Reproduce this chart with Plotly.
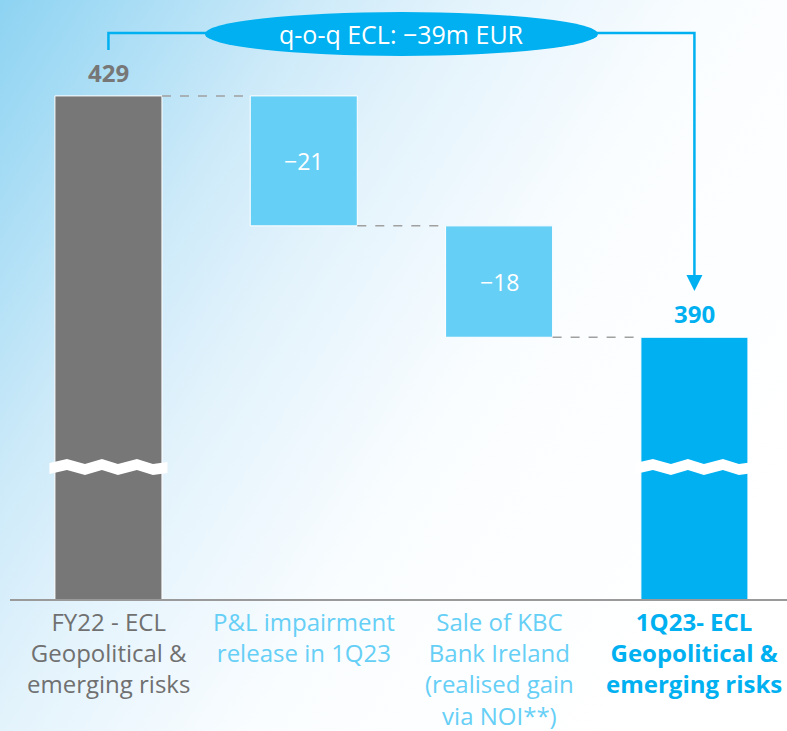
import base64
import plotly.graph_objects as go

# ECL movement FY22 -> 1Q23 (m EUR)
categories = [
    "FY22 - ECL<br>Geopolitical &<br>emerging risks",
    "P&L impairment<br>release in 1Q23",
    "Sale of KBC<br>Bank Ireland<br>(realised gain<br>via NOI**)",
    "<b>1Q23- ECL<br>Geopolitical &<br>emerging risks</b>",
]
values = [429, -21, -18, 390]
kinds = ["total", "delta", "delta", "total"]

GREY = "#777777"
LIGHT = "#66cff6"
BLUE = "#00b0f0"
bar_colors = [GREY, LIGHT, LIGHT, BLUE]
label_colors = ["#707070", LIGHT, LIGHT, BLUE]
FONT = "Open Sans"

W, H = 787, 731
M_L, M_R, M_T, M_B = 10, 0, 0, 132
PLOT_W = W - M_L - M_R
PLOT_H = H - M_T - M_B
X_RANGE = [-0.504, 3.474]
Y_RANGE = [347.7, 444.5]
BAR_W = 0.548

# waterfall geometry
bases, tops = [], []
running = 0
for v, k in zip(values, kinds):
    if k == "total":
        bases.append(0)
        running = v
    else:
        bases.append(running)
        running += v
    tops.append(bases[-1] + v)
xs = list(range(len(values)))

def px_x(dx):
    """horizontal pixel offset -> x data units"""
    return dx * (X_RANGE[1] - X_RANGE[0]) / PLOT_W

def px_y(py):
    """absolute pixel row -> y data value"""
    return Y_RANGE[1] - (py - M_T) * (Y_RANGE[1] - Y_RANGE[0]) / PLOT_H

def paper_y(py):
    return 1 - (py - M_T) / PLOT_H

def fmt(v):
    return str(v).replace("-", "\u2212")

fig = go.Figure()
fig.add_trace(go.Bar(
    x=xs, y=values, base=bases, width=BAR_W,
    marker=dict(color=bar_colors, line=dict(color="white", width=1)),
    hoverinfo="skip",
))

shapes = []
# dashed connectors between consecutive bars
level = values[0]
for i in range(1, len(values)):
    shapes.append(dict(type="line", xref="x", yref="y",
                       x0=i - 1 + BAR_W / 2, x1=i - BAR_W / 2, y0=level, y1=level,
                       line=dict(color="#a0a0a0", width=1.5, dash="dash")))
    level = tops[i] if kinds[i] == "delta" else values[i]

# axis-break zig-zags on the total bars
zig_dx = [-59, -41.5, -23.5, -6.5, 9.5, 28.5, 44.5, 59]
zig_py = [463, 459, 464, 459, 464, 459, 464, 462]
for i, k in enumerate(kinds):
    if k != "total":
        continue
    top = [(i + px_x(dx), px_y(py)) for dx, py in zip(zig_dx, zig_py)]
    bot = [(i + px_x(dx), px_y(py + 11)) for dx, py in zip(zig_dx, zig_py)][::-1]
    pts = top + bot
    path = "M " + " L ".join(f"{a:.4f},{b:.4f}" for a, b in pts) + " Z"
    shapes.append(dict(type="path", xref="x", yref="y", path=path,
                       fillcolor="white", line=dict(width=0)))

# bracket arrow from first total to last total
x_first, x_last = xs[0], xs[-1]
shapes.append(dict(type="path", xref="x", yref="paper",
                   path=(f"M {x_first},{paper_y(50)} L {x_first},{paper_y(33)} "
                         f"L {x_last},{paper_y(33)} L {x_last},{paper_y(277)}"),
                   line=dict(color=BLUE, width=2.5)))
hw = px_x(8)
shapes.append(dict(type="path", xref="x", yref="paper",
                   path=(f"M {x_last - hw},{paper_y(275)} L {x_last + hw},{paper_y(275)} "
                         f"L {x_last},{paper_y(291)} Z"),
                   fillcolor=BLUE, line=dict(width=0)))
# ellipse badge
shapes.append(dict(type="circle", xref="x", yref="paper",
                   x0=0.494, x1=2.506, y0=paper_y(56), y1=paper_y(12),
                   fillcolor=BLUE, line=dict(width=0)))

# background gradient
svg = (
    f'<svg xmlns="http://www.w3.org/2000/svg" width="{W}" height="{H}">'
    '<defs><linearGradient id="g" gradientUnits="userSpaceOnUse" x1="0" y1="0" x2="787" y2="500">'
    '<stop offset="0" stop-color="#8dd3f2"/>'
    '<stop offset="0.28" stop-color="#cdeaf9"/>'
    '<stop offset="0.42" stop-color="#e3f3fc"/>'
    '<stop offset="0.65" stop-color="#fafdff"/>'
    '<stop offset="1" stop-color="#ffffff"/>'
    '</linearGradient></defs>'
    f'<rect width="{W}" height="{H}" fill="url(#g)"/></svg>'
)
bg_src = "data:image/svg+xml;base64," + base64.b64encode(svg.encode()).decode()

annotations = []
change = values[-1] - values[0]
annotations.append(dict(x=1.5, y=paper_y(34), xref="x", yref="paper",
                        xanchor="center", yanchor="middle",
                        text=f"q-o-q ECL: {fmt(change)}m EUR", showarrow=False,
                        font=dict(family=FONT, size=25, color="white")))
for i, (v, k) in enumerate(zip(values, kinds)):
    if k == "total":
        annotations.append(dict(x=i, y=v, xref="x", yref="y", text=f"<b>{v}</b>",
                                showarrow=False, yanchor="bottom", yshift=5,
                                font=dict(family=FONT, size=24, color=bar_colors[i])))
    else:
        annotations.append(dict(x=i, y=bases[i] + v / 2, xref="x", yref="y",
                                text=fmt(v), showarrow=False, yanchor="middle",
                                font=dict(family=FONT, size=23, color="white")))
    annotations.append(dict(x=i, y=0, xref="x", yref="paper", text=categories[i],
                            showarrow=False, yanchor="top", yshift=-4,
                            font=dict(family=FONT, size=24, color=label_colors[i])))

fig.update_layout(
    width=W, height=H,
    margin=dict(l=M_L, r=M_R, t=M_T, b=M_B),
    paper_bgcolor="white", plot_bgcolor="rgba(0,0,0,0)",
    showlegend=False,
    xaxis=dict(range=X_RANGE, showticklabels=False, showgrid=False, zeroline=False,
               showline=True, linecolor="#9a9a9a", linewidth=2, fixedrange=True),
    yaxis=dict(range=Y_RANGE, visible=False, showgrid=False, fixedrange=True),
    shapes=shapes,
    annotations=annotations,
    images=[dict(source=bg_src, xref="paper", yref="paper",
                 x=-M_L / PLOT_W, y=1 + M_T / PLOT_H,
                 sizex=W / PLOT_W, sizey=H / PLOT_H,
                 sizing="stretch", xanchor="left", yanchor="top", layer="below")],
)

fig.write_html("out.html")
